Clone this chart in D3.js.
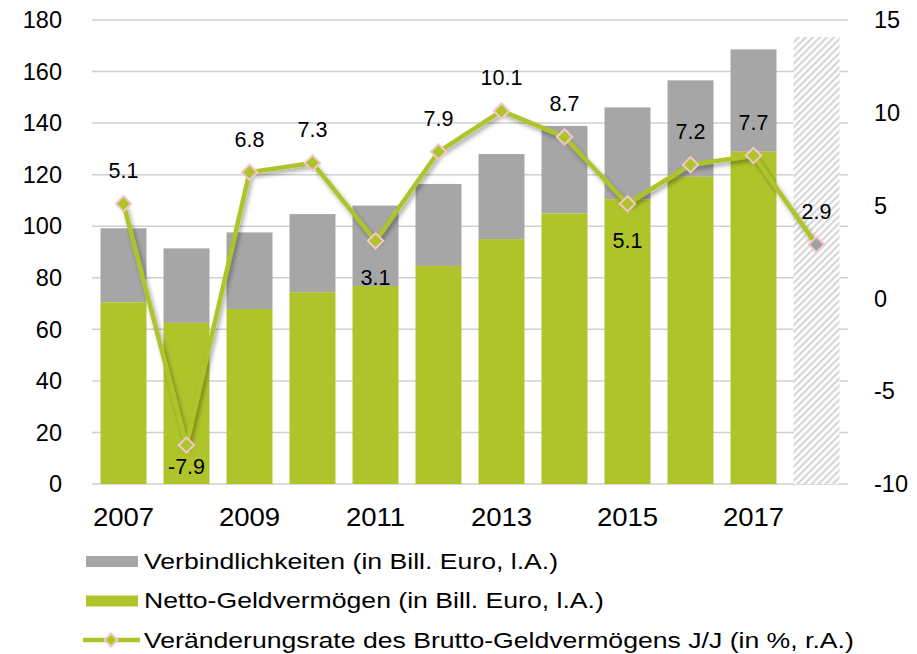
<!DOCTYPE html>
<html>
<head>
<meta charset="utf-8">
<script src="https://cdn.jsdelivr.net/npm/d3@7"></script>
<style>
  body { margin: 0; background: #fff; }
  svg text { font-family: "Liberation Sans", Arial, sans-serif; fill: #000; }
</style>
</head>
<body>
<div id="chart"></div>
<script>
// chart data
const years = ["2007", "2008", "2009", "2010", "2011", "2012", "2013", "2014", "2015", "2016", "2017", "2018"];
const netto = [70.5, 62.5, 67.9, 74.4, 76.8, 84.6, 95, 105, 110.5, 119.2, 128.9, null];
const total = [99.2, 91.4, 97.6, 104.7, 108, 116.4, 128, 138.9, 146.1, 156.6, 168.6, 173.4];
const rate = [5.1, -7.9, 6.8, 7.3, 3.1, 7.9, 10.1, 8.7, 5.1, 7.2, 7.7, 2.9];
const leftTicks = [0, 20, 40, 60, 80, 100, 120, 140, 160, 180];
const rightTicks = [-10, -5, 0, 5, 10, 15];
const xTickLabels = ["2007", "2009", "2011", "2013", "2015", "2017"];
const labelBelow = [false, true, false, false, true, false, false, false, true, false, false, false];

const green = "#afc42b";
const grey = "#a6a6a6";

const width = 917, height = 654;
const plot = { left: 92, right: 848, top: 20, bottom: 484 };

const svg = d3.select("#chart").append("svg")
    .attr("width", width)
    .attr("height", height);

const defs = svg.append("defs");
const hatch = defs.append("pattern")
    .attr("id", "hatch")
    .attr("patternUnits", "userSpaceOnUse")
    .attr("width", 5).attr("height", 5)
    .attr("patternTransform", "rotate(45)");
hatch.append("rect").attr("width", 5).attr("height", 5).attr("fill", "#fff");
hatch.append("rect").attr("width", 2.2).attr("height", 5).attr("fill", "#d6d6d6");

const shadow = defs.append("filter").attr("id", "shadow")
    .attr("x", "-20%").attr("y", "-20%").attr("width", "140%").attr("height", "140%");
shadow.append("feDropShadow")
    .attr("dx", 2).attr("dy", 3).attr("stdDeviation", 2)
    .attr("flood-color", "#000").attr("flood-opacity", 0.35);

// scales
const x = d3.scaleBand()
    .domain(years)
    .range([plot.left, plot.right])
    .paddingInner(0.27)
    .paddingOuter(0.135);

const yLeft = d3.scaleLinear().domain([0, 180]).range([plot.bottom, plot.top]);
const yRight = d3.scaleLinear().domain([-10, 15]).range([plot.bottom, plot.top]);

// gridlines
svg.append("g")
    .selectAll("line")
    .data(leftTicks)
    .join("line")
    .attr("x1", plot.left).attr("x2", plot.right)
    .attr("y1", d => yLeft(d)).attr("y2", d => yLeft(d))
    .attr("stroke", "#d0d0d0")
    .attr("stroke-width", 1.5);

// left axis labels
svg.append("g")
    .selectAll("text")
    .data(leftTicks)
    .join("text")
    .attr("x", 62)
    .attr("y", d => yLeft(d))
    .attr("dy", "0.35em")
    .attr("text-anchor", "end")
    .attr("font-size", 23.5)
    .text(d => d);

// right axis labels
svg.append("g")
    .selectAll("text")
    .data(rightTicks)
    .join("text")
    .attr("x", 874)
    .attr("y", d => yRight(d))
    .attr("dy", "0.35em")
    .attr("text-anchor", "start")
    .attr("font-size", 23.5)
    .text(d => d);

// x labels (a bit wider than the other text in the original)
svg.append("g")
    .selectAll("text")
    .data(xTickLabels)
    .join("text")
    .attr("transform", d => `translate(${x(d) + x.bandwidth() / 2},517) scale(1.08,1)`)
    .attr("dy", "0.35em")
    .attr("text-anchor", "middle")
    .attr("font-size", 25.5)
    .text(d => d);

// bars: Verbindlichkeiten on top of Netto-Geldvermögen
const bars = svg.append("g");
years.forEach((yr, i) => {
    if (netto[i] === null) {
        bars.append("rect")
            .attr("x", x(yr)).attr("width", x.bandwidth())
            .attr("y", yLeft(total[i]))
            .attr("height", yLeft(0) - yLeft(total[i]))
            .attr("fill", "url(#hatch)");
        return;
    }
    bars.append("rect")
        .attr("x", x(yr)).attr("width", x.bandwidth())
        .attr("y", yLeft(total[i]))
        .attr("height", yLeft(netto[i]) - yLeft(total[i]))
        .attr("fill", grey);
    bars.append("rect")
        .attr("x", x(yr)).attr("width", x.bandwidth())
        .attr("y", yLeft(netto[i]))
        .attr("height", yLeft(0) - yLeft(netto[i]))
        .attr("fill", green);
});

// line for the rate of change
const pts = years.map((yr, i) => [x(yr) + x.bandwidth() / 2, yRight(rate[i])]);
svg.append("path")
    .datum(pts)
    .attr("d", d3.line())
    .attr("fill", "none")
    .attr("stroke", green)
    .attr("stroke-width", 4.5)
    .attr("stroke-linejoin", "round")
    .attr("filter", "url(#shadow)");

const diamond = d3.symbol().type(d3.symbolDiamond2).size(150);
svg.append("g")
    .selectAll("path")
    .data(pts)
    .join("path")
    .attr("transform", d => `translate(${d[0]},${d[1]})`)
    .attr("d", diamond)
    .attr("fill", (d, i) => i === years.length - 1 ? "#a0a0a0" : green)
    .attr("stroke", "#f2c8cf")
    .attr("stroke-width", 2);

// data labels
svg.append("g")
    .selectAll("text")
    .data(pts)
    .join("text")
    .attr("x", d => d[0])
    .attr("y", (d, i) => d[1] + (labelBelow[i] ? (rate[i] < 0 ? 21 : 37) : -33))
    .attr("dy", "0.35em")
    .attr("text-anchor", "middle")
    .attr("font-size", 21.5)
    .text((d, i) => rate[i].toFixed(1));

// legend
const legend = svg.append("g");
const legendItems = [
    { label: "Verbindlichkeiten (in Bill. Euro, l.A.)", type: "rect", color: grey },
    { label: "Netto-Geldvermögen (in Bill. Euro, l.A.)", type: "rect", color: green },
    { label: "Veränderungsrate des Brutto-Geldvermögens J/J (in %, r.A.)", type: "line", color: green }
];
legendItems.forEach((item, i) => {
    const ly = 561 + i * 39.5;
    if (item.type === "rect") {
        legend.append("rect")
            .attr("x", 86).attr("y", ly - 5)
            .attr("width", 52).attr("height", 11)
            .attr("fill", item.color);
    } else {
        legend.append("line")
            .attr("x1", 83).attr("x2", 140)
            .attr("y1", ly).attr("y2", ly)
            .attr("stroke", item.color)
            .attr("stroke-width", 4.5);
        legend.append("path")
            .attr("transform", `translate(111,${ly})`)
            .attr("d", d3.symbol().type(d3.symbolDiamond2).size(110))
            .attr("fill", green)
            .attr("stroke", "#f2c8cf")
            .attr("stroke-width", 2);
    }
    legend.append("text")
        .attr("transform", `translate(144,${ly}) scale(1.21,1)`)
        .attr("dy", "0.35em")
        .attr("font-size", 22)
        .text(item.label);
});
</script>
</body>
</html>
